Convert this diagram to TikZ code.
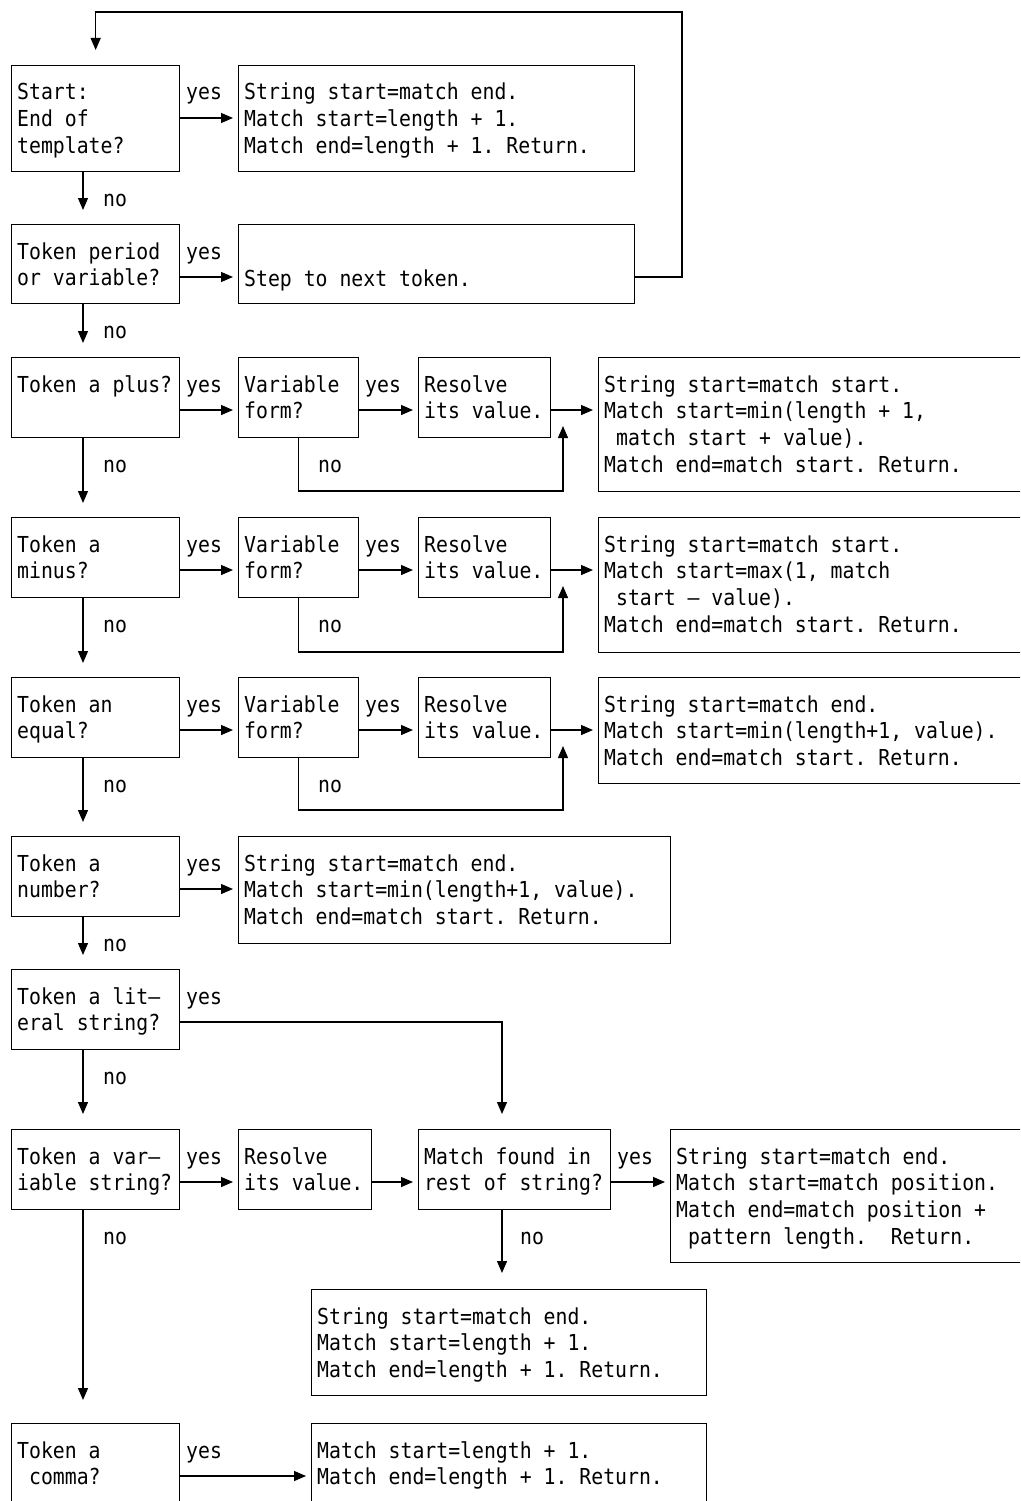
\documentclass[tikz,border=0pt]{standalone}
\usepackage{fontspec}
\newfontfamily\ibmmono[FakeStretch=0.9]{DejaVu Sans Mono}
\usetikzlibrary{arrows.meta,calc}
\newcommand{\mlines}[1]{\begin{tabular}[t]{@{}l@{}}#1\end{tabular}}
\newcommand{\lsp}{\hphantom{M}}
\frenchspacing
\begin{document}
\begin{tikzpicture}[x=1pt,y=-1pt,
  box/.style={draw, line width=1.3pt, rectangle, inner sep=0pt, anchor=north west},
  txt/.style={anchor=base west, inner sep=0pt, font=\ibmmono\fontsize{22}{26.7}\selectfont\frenchspacing},
  conn/.style={line width=1.3pt},
  arr/.style={conn, -{Triangle[length=12pt,width=10pt]}},
  harr/.style={arr, shorten >=5pt},
]
\useasboundingbox (0,0) rectangle (1020,1501);
\clip (0,0) rectangle (1020,1501);

\coordinate (mx) at (83,0);
\coordinate (fx) at (502,0);

% ---------- boxes ----------
\node[box, minimum width=168pt, minimum height=106pt] (q1) at (11,65) {};
\node[box, minimum width=396pt, minimum height=106pt] (a1) at (238,65) {};

\node[box, minimum width=168pt, minimum height=79pt] (q2) at (11,224) {};
\node[box, minimum width=396pt, minimum height=79pt] (a2) at (238,224) {};

\node[box, minimum width=168pt, minimum height=80pt] (q3) at (11,357) {};
\node[box, minimum width=120pt, minimum height=80pt] (v3) at (238,357) {};
\node[box, minimum width=132pt, minimum height=80pt] (r3) at (418,357) {};
\node[box, minimum width=462pt, minimum height=134pt] (a3) at (598,357) {};

\node[box, minimum width=168pt, minimum height=80pt] (q4) at (11,517) {};
\node[box, minimum width=120pt, minimum height=80pt] (v4) at (238,517) {};
\node[box, minimum width=132pt, minimum height=80pt] (r4) at (418,517) {};
\node[box, minimum width=462pt, minimum height=135pt] (a4) at (598,517) {};

\node[box, minimum width=168pt, minimum height=80pt] (q5) at (11,677) {};
\node[box, minimum width=120pt, minimum height=80pt] (v5) at (238,677) {};
\node[box, minimum width=132pt, minimum height=80pt] (r5) at (418,677) {};
\node[box, minimum width=462pt, minimum height=106pt] (a5) at (598,677) {};

\node[box, minimum width=168pt, minimum height=80pt] (q6) at (11,836) {};
\node[box, minimum width=432pt, minimum height=107pt] (a6) at (238,836) {};

\node[box, minimum width=168pt, minimum height=80pt] (q7) at (11,969) {};

\node[box, minimum width=168pt, minimum height=80pt] (q8) at (11,1129) {};
\node[box, minimum width=133pt, minimum height=80pt] (r8) at (238,1129) {};
\node[box, minimum width=192pt, minimum height=80pt] (m8) at (418,1129) {};
\node[box, minimum width=400pt, minimum height=133pt] (a8) at (670,1129) {};

\node[box, minimum width=395pt, minimum height=106pt] (a9) at (311,1289) {};

\node[box, minimum width=168pt, minimum height=110pt] (q10) at (11,1423) {};
\node[box, minimum width=395pt, minimum height=110pt] (a10) at (311,1423) {};

% ---------- box texts ----------
\node[txt] (tq1) at ($(q1.north west)+(6,35)$) {\mlines{Start:\\End of\\template?}};
\node[txt] (ta1) at ($(a1.north west)+(6,35)$) {\mlines{String start=match end.\\Match start=length + 1.\\Match end=length + 1. Return.}};
\node[txt] (tq2) at ($(q2.north west)+(6,35)$) {\mlines{Token period\\or variable?}};
\node[txt] (ta2) at ($(a2.north west)+(6,62)$) {Step to next token.};

\node[txt] (tq3) at ($(q3.north west)+(6,35)$) {Token a plus?};
\node[txt] (tv3) at ($(v3.north west)+(6,35)$) {\mlines{Variable\\form?}};
\node[txt] (tr3) at ($(r3.north west)+(6,35)$) {\mlines{Resolve\\its value.}};
\node[txt] (ta3) at ($(a3.north west)+(6,35)$) {\mlines{String start=match start.\\Match start=min(length + 1,\\\lsp match start + value).\\Match end=match start. Return.}};

\node[txt] (tq4) at ($(q4.north west)+(6,35)$) {\mlines{Token a\\minus?}};
\node[txt] (tv4) at ($(v4.north west)+(6,35)$) {\mlines{Variable\\form?}};
\node[txt] (tr4) at ($(r4.north west)+(6,35)$) {\mlines{Resolve\\its value.}};
\node[txt] (ta4) at ($(a4.north west)+(6,35)$) {\mlines{String start=match start.\\Match start=max(1, match\\\lsp start – value).\\Match end=match start. Return.}};

\node[txt] (tq5) at ($(q5.north west)+(6,35)$) {\mlines{Token an\\equal?}};
\node[txt] (tv5) at ($(v5.north west)+(6,35)$) {\mlines{Variable\\form?}};
\node[txt] (tr5) at ($(r5.north west)+(6,35)$) {\mlines{Resolve\\its value.}};
\node[txt] (ta5) at ($(a5.north west)+(6,35)$) {\mlines{String start=match end.\\Match start=min(length+1, value).\\Match end=match start. Return.}};

\node[txt] (tq6) at ($(q6.north west)+(6,35)$) {\mlines{Token a\\number?}};
\node[txt] (ta6) at ($(a6.north west)+(6,35)$) {\mlines{String start=match end.\\Match start=min(length+1, value).\\Match end=match start. Return.}};

\node[txt] (tq7) at ($(q7.north west)+(6,35)$) {\mlines{Token a lit–\\eral string?}};

\node[txt] (tq8) at ($(q8.north west)+(6,35)$) {\mlines{Token a var–\\iable string?}};
\node[txt] (tr8) at ($(r8.north west)+(6,35)$) {\mlines{Resolve\\its value.}};
\node[txt] (tm8) at ($(m8.north west)+(6,35)$) {\mlines{Match found in\\rest of string?}};
\node[txt] (ta8) at ($(a8.north west)+(6,35)$) {\mlines{String start=match end.\\Match start=match position.\\Match end=match position +\\\lsp pattern length.\ \ Return.}};

\node[txt] (ta9) at ($(a9.north west)+(6,35)$) {\mlines{String start=match end.\\Match start=length + 1.\\Match end=length + 1. Return.}};

\node[txt] (tq10) at ($(q10.north west)+(6,35)$) {\mlines{Token a\\\lsp comma?}};
\node[txt] (ta10) at ($(a10.north west)+(6,35)$) {\mlines{Match start=length + 1.\\Match end=length + 1. Return.}};

% ---------- yes / no labels ----------
\node[txt] (y1) at (186,100) {yes};
\node[txt] (y2) at (186,259) {yes};
\node[txt] (y3) at (186,392) {yes};
\node[txt] (y3b) at (365,392) {yes};
\node[txt] (y4) at (186,552) {yes};
\node[txt] (y4b) at (365,552) {yes};
\node[txt] (y5) at (186,712) {yes};
\node[txt] (y5b) at (365,712) {yes};
\node[txt] (y6) at (186,871) {yes};
\node[txt] (y7) at (186,1004) {yes};
\node[txt] (y8) at (186,1164) {yes};
\node[txt] (y8b) at (617,1164) {yes};
\node[txt] (y10) at (186,1458) {yes};

\node[txt] (n1) at (103,206) {no};
\node[txt] (n2) at (103,338) {no};
\node[txt] (n3) at (103,472) {no};
\node[txt] (n3b) at (318,472) {no};
\node[txt] (n4) at (103,632) {no};
\node[txt] (n4b) at (318,632) {no};
\node[txt] (n5) at (103,792) {no};
\node[txt] (n5b) at (318,792) {no};
\node[txt] (n6) at (103,951) {no};
\node[txt] (n7) at (103,1084) {no};
\node[txt] (n8) at (103,1244) {no};
\node[txt] (n8b) at (520,1244) {no};

% ---------- connectors ----------
% row 1
\draw[harr] ($(q1.north east)+(0,53)$) -- ($(a1.north west)+(0,53)$);
\draw[arr, shorten >=14pt] (q1.south -| mx) -- (q2.north -| mx);
% row 2
\draw[harr] ($(q2.north east)+(0,53)$) -- ($(a2.north west)+(0,53)$);
\coordinate (loopR) at (682,12);
\draw[arr, shorten >=15pt] ($(a2.north east)+(0,53)$) -| (loopR) -| (q1.north);
\draw[arr, shorten >=14pt] (q2.south -| mx) -- (q3.north -| mx);
% row 3
\draw[harr] ($(q3.north east)+(0,53)$) -- ($(v3.north west)+(0,53)$);
\draw[harr] ($(v3.north east)+(0,53)$) -- ($(r3.north west)+(0,53)$);
\draw[harr] ($(r3.north east)+(0,53)$) -- ($(a3.north west)+(0,53)$);
\coordinate (lb3) at (563,491);
\coordinate (up3) at (563,426);
\draw[arr] (v3.south) |- (lb3) -- (up3);
\draw[arr, shorten >=14pt] (q3.south -| mx) -- (q4.north -| mx);
% row 4
\draw[harr] ($(q4.north east)+(0,53)$) -- ($(v4.north west)+(0,53)$);
\draw[harr] ($(v4.north east)+(0,53)$) -- ($(r4.north west)+(0,53)$);
\draw[harr] ($(r4.north east)+(0,53)$) -- ($(a4.north west)+(0,53)$);
\coordinate (lb4) at (563,652);
\coordinate (up4) at (563,586);
\draw[arr] (v4.south) |- (lb4) -- (up4);
\draw[arr, shorten >=14pt] (q4.south -| mx) -- (q5.north -| mx);
% row 5
\draw[harr] ($(q5.north east)+(0,53)$) -- ($(v5.north west)+(0,53)$);
\draw[harr] ($(v5.north east)+(0,53)$) -- ($(r5.north west)+(0,53)$);
\draw[harr] ($(r5.north east)+(0,53)$) -- ($(a5.north west)+(0,53)$);
\coordinate (lb5) at (563,810);
\coordinate (up5) at (563,746);
\draw[arr] (v5.south) |- (lb5) -- (up5);
\draw[arr, shorten >=14pt] (q5.south -| mx) -- (q6.north -| mx);
% row 6
\draw[harr] ($(q6.north east)+(0,53)$) -- ($(a6.north west)+(0,53)$);
\draw[arr, shorten >=14pt] (q6.south -| mx) -- (q7.north -| mx);
% row 7
\draw[arr, shorten >=15pt] ($(q7.north east)+(0,53)$) -| (m8.north -| fx);
\draw[arr, shorten >=15pt] (q7.south -| mx) -- (q8.north -| mx);
% row 8
\draw[harr] ($(q8.north east)+(0,53)$) -- ($(r8.north west)+(0,53)$);
\draw[harr] ($(r8.north east)+(0,53)$) -- ($(m8.north west)+(0,53)$);
\draw[harr] ($(m8.north east)+(0,53)$) -- ($(a8.north west)+(0,53)$);
\draw[arr, shorten >=16pt] (m8.south -| fx) -- (a9.north -| fx);
\draw[arr, shorten >=23pt] (q8.south -| mx) -- (q10.north -| mx);
% row 10
\draw[harr] ($(q10.north east)+(0,53)$) -- ($(a10.north west)+(0,53)$);
\end{tikzpicture}
\end{document}
